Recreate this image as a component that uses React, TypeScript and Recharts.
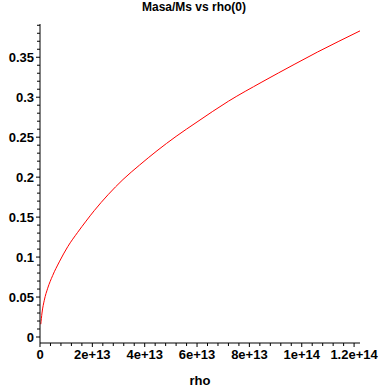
import { LineChart, Line, XAxis, YAxis } from "recharts";

// rho(0) values and the mass (in solar masses)
const RHO = [
  3e11, 7.6e11, 1.64e12, 2.94e12, 4.85e12, 7.37e12, 1.06e13, 1.44e13, 1.76e13,
  2.07e13, 2.6e13, 3.17e13, 3.8e13, 4.47e13, 5.2e13, 6.0e13, 7.2e13, 8.48e13,
  9.74e13, 1.06e14, 1.142e14, 1.2226e14,
];
const MASA = [
  0.016, 0.03, 0.046, 0.061, 0.077, 0.094, 0.113, 0.131, 0.145, 0.158, 0.178,
  0.197, 0.215, 0.233, 0.251, 0.269, 0.295, 0.319, 0.3415, 0.3565, 0.37, 0.383,
];

const X_MAJOR = [0, 2e13, 4e13, 6e13, 8e13, 1e14, 1.2e14];
const X_LABELS = ["0", "2e+13", "4e+13", "6e+13", "8e+13", "1e+14", "1.2e+14"];
const Y_MAJOR = [0, 0.05, 0.1, 0.15, 0.2, 0.25, 0.3, 0.35];
const Y_LABELS = ["0", "0.05", "0.1", "0.15", "0.2", "0.25", "0.3", "0.35"];

const X_DOMAIN = [0, 1.2226e14];
const Y_DOMAIN = [-0.0075, 0.3916];

// minor ticks: every 4e12 on x, every 0.01 on y
const X_TICKS = Array.from({ length: 31 }, (_, i) => i * 4e12);
const Y_TICKS = Array.from({ length: 40 }, (_, i) => i / 100);

const data = RHO.map((r, i) => ({ rho: r, masa: MASA[i] }));

const FONT = '"Liberation Sans", Arial, sans-serif';

const findMajor = (list: number[], v: number) =>
  list.findIndex((m) => Math.abs(m - v) < Math.abs(m || 1) * 1e-9 + 1e-12);

function XTick({ x, y, payload }: any) {
  const k = findMajor(X_MAJOR, payload.value);
  return (
    <g>
      <line x1={x} y1={y} x2={x} y2={y + (k >= 0 ? 4 : 3)} stroke="#000" />
      {k >= 0 && (
        <text
          x={x}
          y={y + 11}
          textAnchor="middle"
          dominantBaseline="central"
          fontFamily={FONT}
          fontWeight="bold"
          fontSize={13}
          fill="#000"
        >
          {X_LABELS[k]}
        </text>
      )}
    </g>
  );
}

function YTick({ x, y, payload }: any) {
  const k = findMajor(Y_MAJOR, payload.value);
  return (
    <g>
      <line x1={x} y1={y} x2={x - (k >= 0 ? 4 : 3)} y2={y} stroke="#000" />
      {k >= 0 && (
        <text
          x={x - 6}
          y={y}
          textAnchor="end"
          dominantBaseline="central"
          fontFamily={FONT}
          fontWeight="bold"
          fontSize={13}
          fill="#000"
        >
          {Y_LABELS[k]}
        </text>
      )}
    </g>
  );
}

export default function App() {
  return (
    <div style={{ position: "absolute", left: 0, top: 0, width: 388, height: 388, background: "#fff" }}>
      <div
        style={{
          position: "absolute",
          left: 0,
          top: 0,
          width: 388,
          textAlign: "center",
          font: `bold 12px ${FONT}`,
          lineHeight: "14px",
        }}
      >
        Masa/Ms vs rho(0)
      </div>
      <LineChart width={388} height={388} data={data} margin={{ top: 24, right: 28, left: 0, bottom: 0 }}>
        <XAxis
          dataKey="rho"
          type="number"
          domain={X_DOMAIN}
          allowDataOverflow
          ticks={X_TICKS}
          interval={0}
          tick={<XTick />}
          tickLine={false}
          tickSize={0}
          tickMargin={0}
          height={45}
          axisLine={{ stroke: "#000" }}
        />
        <XAxis
          xAxisId="top"
          orientation="top"
          dataKey="rho"
          type="number"
          domain={X_DOMAIN}
          allowDataOverflow
          tick={false}
          tickLine={false}
          height={0}
          axisLine={{ stroke: "#000" }}
        />
        <YAxis
          type="number"
          domain={Y_DOMAIN}
          allowDataOverflow
          ticks={Y_TICKS}
          interval={0}
          tick={<YTick />}
          tickLine={false}
          tickSize={0}
          tickMargin={0}
          width={40}
          axisLine={{ stroke: "#000" }}
        />
        <YAxis
          yAxisId="right"
          orientation="right"
          type="number"
          domain={Y_DOMAIN}
          allowDataOverflow
          tick={false}
          tickLine={false}
          width={0}
          axisLine={{ stroke: "#000" }}
        />
        <Line
          dataKey="masa"
          type="monotone"
          stroke="#ff0000"
          strokeWidth={1}
          dot={false}
          isAnimationActive={false}
        />
      </LineChart>
      <div
        style={{
          position: "absolute",
          left: 40,
          top: 374,
          width: 320,
          textAlign: "center",
          font: `bold 13px ${FONT}`,
          lineHeight: "14px",
        }}
      >
        rho
      </div>
    </div>
  );
}
